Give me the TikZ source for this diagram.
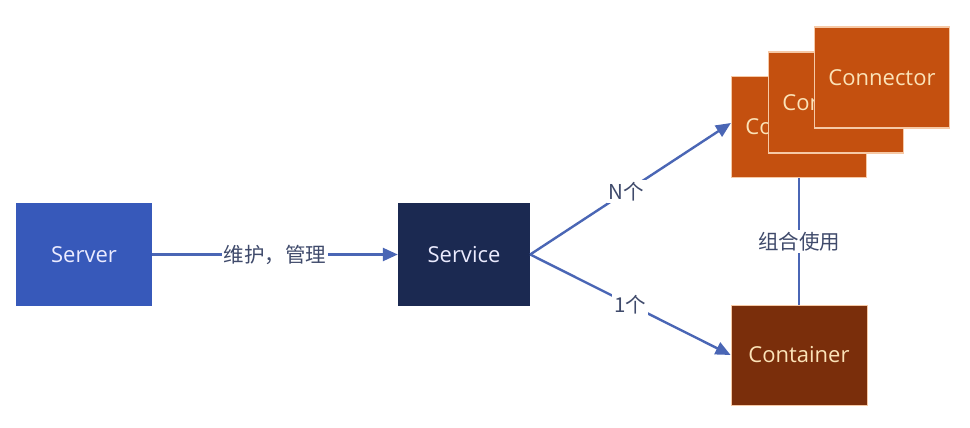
\documentclass[tikz,border=0pt]{standalone}
\usepackage{fontspec}
\setmainfont{Open Sans}
\newfontfamily\cjk{Noto Sans CJK SC}
\usetikzlibrary{arrows.meta}
\definecolor{serverblue}{HTML}{3759BA}
\definecolor{servicenavy}{HTML}{1B2951}
\definecolor{connorange}{HTML}{C4500F}
\definecolor{contbrown}{HTML}{7A2E0B}
\definecolor{lightedge}{HTML}{F6C9A6}
\definecolor{lighttext}{HTML}{FBE3B8}
\definecolor{linecol}{HTML}{4A66B5}
\definecolor{labelcol}{HTML}{3F4A6B}
\tikzset{
  box/.style={rectangle, inner sep=0pt, font=\fontsize{22}{26}\selectfont},
  bluebox/.style={box, fill=serverblue, text=white!92!blue, minimum width=136pt, minimum height=103pt},
  navybox/.style={box, fill=servicenavy, text=white!92!blue, minimum width=132pt, minimum height=103pt},
  connbox/.style={box, fill=connorange, draw=lightedge, line width=1.2pt, text=lighttext, minimum width=135pt, minimum height=101pt},
  contbox/.style={box, fill=contbrown, draw=lightedge, line width=0.8pt, text=lighttext, minimum width=136pt, minimum height=100pt},
  link/.style={draw=linecol, line width=2.4pt},
  arrowlink/.style={link, -{Triangle[length=15pt,width=13pt]}},
  lbl/.style={fill=white, inner sep=2pt, text=labelcol, font=\cjk\fontsize{20.5}{24}\selectfont}
}
\begin{document}
\begin{tikzpicture}[x=1pt,y=-1pt]
\useasboundingbox (0,0) rectangle (970,428);
\fill[white] (0,0) rectangle (970,428);
\node[bluebox] (server) at (84,254.5) {Server};
\node[navybox] (service) at (464,254.5) {Service};
\node[connbox] (conn1) at (799,127) {Connector};
\node[connbox] (conn2) at (836,102.5) {Connector};
\node[connbox] (conn3) at (882,77.5) {Connector};
\node[contbox] (cont) at (799,355) {Container};
\draw[arrowlink] (server.east) -- node[lbl] {维护，管理} (service.west);
\draw[arrowlink] (service.east) -- node[lbl, pos=0.48] {N个} ([yshift=4pt]conn1.west);
\draw[arrowlink] (service.east) -- node[lbl, pos=0.5] {1个} (cont.west);
\draw[link, line width=1.8pt] (conn1.south) -- node[lbl] {组合使用} (cont.north);
\end{tikzpicture}
\end{document}
